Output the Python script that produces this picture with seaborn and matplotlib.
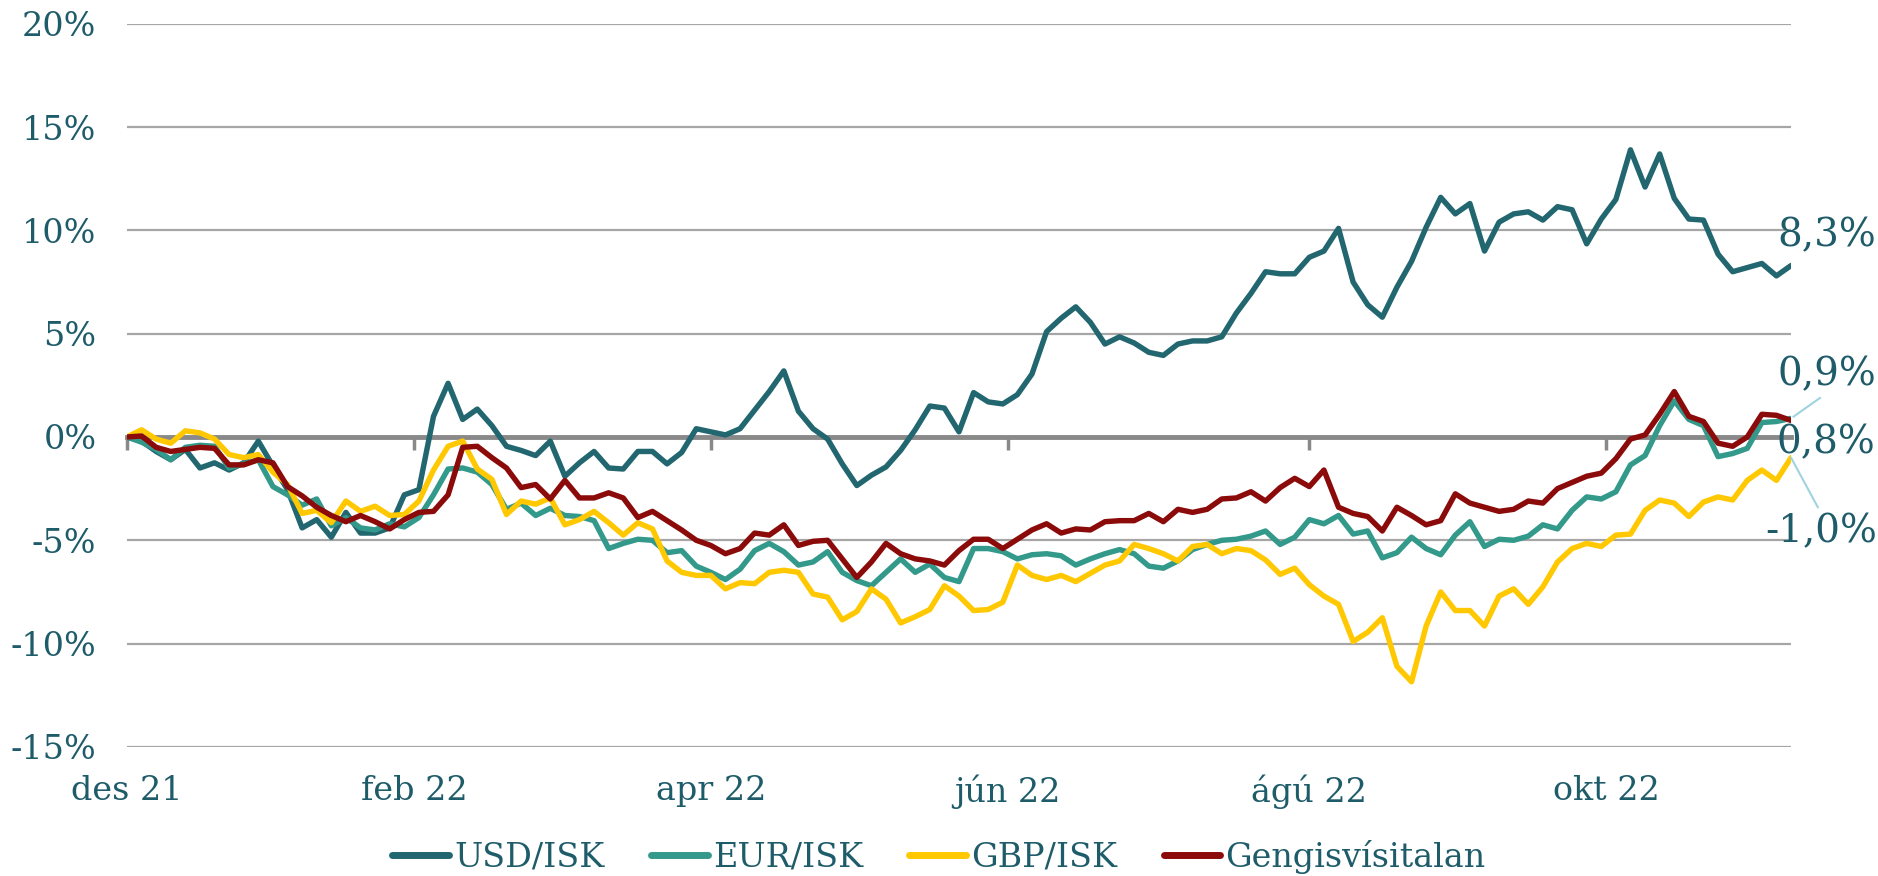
import numpy as np
import pandas as pd
import matplotlib
matplotlib.use("Agg")
import matplotlib.pyplot as plt
import matplotlib.dates as mdates
from matplotlib.lines import Line2D
import seaborn as sns

# ==========================================
# 1. Gögn (lesin af mynd, % breyting frá áramótum)
# ==========================================
series_names = ["USD/ISK", "EUR/ISK", "GBP/ISK", "Gengisvísitalan"]
series_colors = ["#22666f", "#33998a", "#ffc800", "#8b0a0a"]

start_date = "2021-12-31"
n_points = 115
step_days = 3

usd = [0.0, -0.2, -0.7, -1.1, -0.6, -1.5, -1.25, -1.6, -1.25, -0.2, -1.4, -2.55, -4.4, -4.0, -4.85, -3.65, -4.65, -4.65, -4.4,
       -2.8, -2.55, 1.0, 2.6, 0.85, 1.35, 0.55, -0.45, -0.65, -0.9, -0.2, -1.9, -1.25, -0.7, -1.5, -1.55, -0.7, -0.7, -1.3,
       -0.75, 0.4, 0.25, 0.1, 0.4, 1.3, 2.2, 3.2, 1.25, 0.4, -0.1, -1.3, -2.35, -1.85, -1.45, -0.65, 0.35, 1.5, 1.4,
       0.25, 2.15, 1.7, 1.6, 2.05, 3.05, 5.1, 5.75, 6.3, 5.55, 4.5, 4.85, 4.55, 4.1, 3.95, 4.5, 4.65, 4.65, 4.85, 6.0,
       6.95, 8.0, 7.9, 7.9, 8.7, 9.0, 10.1, 7.5, 6.4, 5.8, 7.25, 8.5, 10.15, 11.6, 10.8, 11.3, 9.0, 10.4, 10.8,
       10.9, 10.5, 11.15, 11.0, 9.35, 10.55, 11.5, 13.9, 12.1, 13.7, 11.55, 10.55, 10.5, 8.85, 8.0, 8.2, 8.4, 7.8, 8.3]

eur = [0.0, -0.25, -0.6, -1.1, -0.5, -0.4, -0.45, -1.5, -1.3, -1.1, -2.4, -2.8, -3.3, -3.0, -4.3, -3.9, -4.4, -4.5, -4.2,
       -4.35, -3.9, -2.8, -1.55, -1.5, -1.7, -2.3, -3.5, -3.2, -3.8, -3.45, -3.8, -3.85, -4.05, -5.4, -5.15, -4.95, -5.0, -5.6,
       -5.5, -6.25, -6.55, -6.9, -6.4, -5.5, -5.15, -5.55, -6.2, -6.05, -5.55, -6.55, -6.95, -7.2, -6.55, -5.9, -6.55, -6.15, -6.8,
       -7.0, -5.4, -5.4, -5.55, -5.9, -5.7, -5.65, -5.75, -6.2, -5.9, -5.65, -5.45, -5.65, -6.25, -6.35, -6.0, -5.45, -5.2, -5.0, -4.95,
       -4.8, -4.55, -5.2, -4.85, -4.0, -4.2, -3.8, -4.7, -4.55, -5.85, -5.6, -4.85, -5.4, -5.7, -4.75, -4.1, -5.3, -4.95, -5.0,
       -4.8, -4.25, -4.45, -3.55, -2.9, -3.0, -2.65, -1.35, -0.9, 0.55, 1.75, 0.85, 0.55, -0.95, -0.8, -0.55, 0.7, 0.75, 0.9]

gbp = [0.0, 0.35, -0.1, -0.3, 0.3, 0.2, -0.1, -0.85, -1.0, -0.85, -1.7, -2.3, -3.7, -3.55, -4.15, -3.1, -3.6, -3.35, -3.8,
       -3.75, -3.1, -1.6, -0.45, -0.2, -1.55, -2.05, -3.75, -3.1, -3.25, -2.95, -4.25, -4.0, -3.6, -4.15, -4.75, -4.15, -4.45, -6.0,
       -6.55, -6.7, -6.7, -7.35, -7.05, -7.1, -6.55, -6.45, -6.55, -7.6, -7.75, -8.85, -8.45, -7.35, -7.85, -9.0, -8.7, -8.35, -7.2,
       -7.7, -8.4, -8.35, -8.0, -6.2, -6.7, -6.9, -6.7, -7.0, -6.6, -6.2, -6.0, -5.2, -5.4, -5.65, -6.0, -5.3, -5.2, -5.65, -5.4,
       -5.5, -5.95, -6.65, -6.35, -7.15, -7.7, -8.1, -9.9, -9.45, -8.75, -11.1, -11.85, -9.15, -7.5, -8.4, -8.4, -9.15, -7.7, -7.35,
       -8.1, -7.25, -6.05, -5.4, -5.15, -5.3, -4.75, -4.7, -3.55, -3.05, -3.2, -3.85, -3.15, -2.9, -3.05, -2.1, -1.6, -2.1, -1.0]

geng = [0.0, 0.05, -0.5, -0.7, -0.6, -0.5, -0.55, -1.35, -1.35, -1.1, -1.25, -2.4, -2.85, -3.4, -3.8, -4.1, -3.8, -4.1, -4.45,
        -4.0, -3.65, -3.6, -2.8, -0.5, -0.45, -1.0, -1.5, -2.45, -2.3, -3.0, -2.1, -2.95, -2.95, -2.7, -2.95, -3.9, -3.6, -4.05,
        -4.5, -5.0, -5.25, -5.65, -5.4, -4.65, -4.75, -4.25, -5.25, -5.05, -5.0, -5.9, -6.8, -6.05, -5.15, -5.65, -5.9, -6.0, -6.2,
        -5.5, -4.95, -4.95, -5.4, -4.95, -4.5, -4.2, -4.65, -4.45, -4.5, -4.1, -4.05, -4.05, -3.7, -4.1, -3.5, -3.65, -3.5, -3.0, -2.95,
        -2.65, -3.1, -2.45, -2.0, -2.4, -1.6, -3.4, -3.7, -3.85, -4.55, -3.4, -3.8, -4.25, -4.05, -2.75, -3.2, -3.4, -3.6, -3.5,
        -3.1, -3.2, -2.5, -2.2, -1.9, -1.75, -1.05, -0.1, 0.1, 1.1, 2.2, 1.0, 0.75, -0.3, -0.45, 0.0, 1.1, 1.05, 0.8]

tick_dates = ["2021-12-31", "2022-02-28", "2022-04-30", "2022-06-30", "2022-08-31", "2022-10-31"]
tick_labels = ["des 21", "feb 22", "apr 22", "jún 22", "ágú 22", "okt 22"]
y_ticks = [-15, -10, -5, 0, 5, 10, 15, 20]

end_labels = ["8,3%", "0,9%", "-1,0%", "0,8%"]   # USD, EUR, GBP, Geng

TEXT_COLOR = "#1f5c6a"
GRID_COLOR = "#a6a6a6"
AXIS_COLOR = "#898989"
LEADER_COLOR = "#9fd3df"
FS = 24
FS_END = 28

# ==========================================
# 2. Langtafla fyrir seaborn
# ==========================================
dates = pd.date_range(start_date, periods=n_points, freq=f"{step_days}D")
values = {"USD/ISK": usd, "EUR/ISK": eur, "GBP/ISK": gbp, "Gengisvísitalan": geng}
df = pd.concat(
    [pd.DataFrame({"date": dates, "value": v, "series": k}) for k, v in values.items()],
    ignore_index=True,
)

# ==========================================
# 3. Teikning
# ==========================================
sns.set_theme(style="white")
plt.rcParams["font.family"] = ["DejaVu Serif"]

fig = plt.figure(figsize=(18.78, 8.76), dpi=100)
ax = fig.add_axes([0.0676, 0.1474, 0.8861, 0.8254])

sns.lineplot(data=df, x="date", y="value", hue="series", hue_order=series_names,
             palette=series_colors, linewidth=3.9, ax=ax, legend=False)
for ln in ax.lines:
    ln.set_zorder(3)
    ln.set_solid_joinstyle("round")
    ln.set_solid_capstyle("round")

ax.set_ylim(-15, 20)
ax.set_xlim(dates[0], dates[-1])
ax.set_xlabel("")
ax.set_ylabel("")

# láréttar hnitalínur
ax.set_yticks(y_ticks)
ax.set_yticklabels([f"{v}%" for v in y_ticks])
ax.yaxis.grid(True, color=GRID_COLOR, linewidth=1.6)
ax.set_axisbelow(True)
ax.tick_params(axis="y", length=0, pad=22, labelsize=FS, labelcolor=TEXT_COLOR)

for s in ["top", "right", "left"]:
    ax.spines[s].set_visible(False)

# x-ás við 0% með merkjum
tick_nums = mdates.date2num(pd.to_datetime(tick_dates))
ax.spines["bottom"].set_position(("data", 0))
ax.spines["bottom"].set_color(AXIS_COLOR)
ax.spines["bottom"].set_linewidth(3.5)
ax.spines["bottom"].set_zorder(2.5)
ax.set_xticks(tick_nums)
ax.tick_params(axis="x", bottom=True, direction="out", length=9, width=2.5, color=AXIS_COLOR,
               labelbottom=False)

# dagsetningar neðst
sec = ax.secondary_xaxis("bottom")
sec.set_xticks(tick_nums)
sec.set_xticklabels(tick_labels)
sec.spines["bottom"].set_visible(False)
sec.tick_params(length=0, pad=20, labelsize=FS, labelcolor=TEXT_COLOR)

# merkingar við enda lína
end_x = dates[-1]
ax.annotate(end_labels[0], xy=(end_x, usd[-1]), xytext=(36, 30), textcoords="offset pixels",
            ha="center", va="center", fontsize=FS_END, color=TEXT_COLOR, annotation_clip=False)
ax.annotate(end_labels[1], xy=(end_x, eur[-1]), xytext=(36, 44), textcoords="offset pixels",
            ha="center", va="center", fontsize=FS_END, color=TEXT_COLOR, annotation_clip=False,
            arrowprops=dict(arrowstyle="-", color=LEADER_COLOR, lw=1.5, shrinkA=2, shrinkB=2,
                            relpos=(0.5, 0.0)))
ax.annotate(end_labels[3], xy=(end_x, geng[-1]), xytext=(35, -22), textcoords="offset pixels",
            ha="center", va="center", fontsize=FS_END, color=TEXT_COLOR, annotation_clip=False)
ax.annotate(end_labels[2], xy=(end_x, gbp[-1]), xytext=(30, -74), textcoords="offset pixels",
            ha="center", va="center", fontsize=FS_END, color=TEXT_COLOR, annotation_clip=False,
            arrowprops=dict(arrowstyle="-", color=LEADER_COLOR, lw=1.5, shrinkA=2, shrinkB=0,
                            relpos=(0.5, 1.0)))

# skýringar
handles = [Line2D([], [], color=c, linewidth=5, solid_capstyle="round") for c in series_colors]
fig.legend(handles, series_names, loc="center", bbox_to_anchor=(0.5, 0.022), ncol=4,
           frameon=False, handlelength=1.7, handletextpad=0.15, columnspacing=1.4,
           fontsize=FS, labelcolor=TEXT_COLOR)

fig.savefig("out.png", dpi=100, facecolor="white")
plt.close(fig)
